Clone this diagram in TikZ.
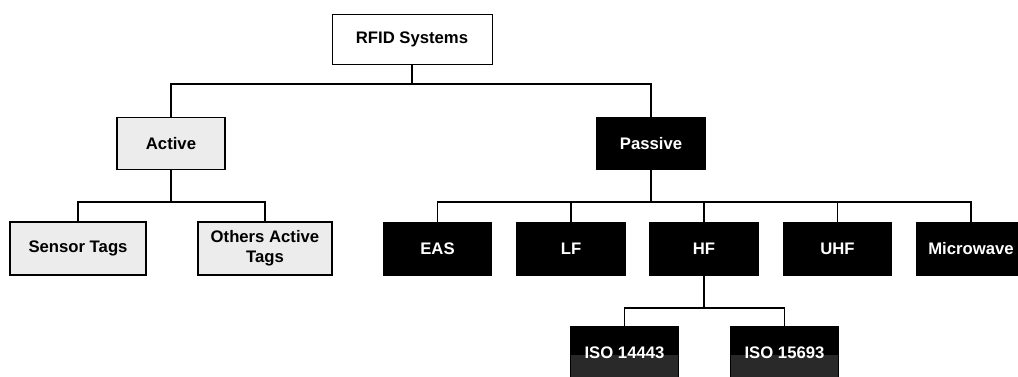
\documentclass[tikz,border=0pt]{standalone}
\usepackage{fontspec}
\setmainfont{Liberation Sans}
\begin{document}
\begin{tikzpicture}[x=1pt,y=-1pt,
  box/.style={draw=black, line width=1.3pt, minimum width=108pt, minimum height=52pt,
    inner sep=0pt, font=\fontsize{16.7}{20}\selectfont\bfseries, align=center},
  dark/.style={box, fill=black, text=white},
  light/.style={box, fill=gray!15},
  iso/.style={dark, path picture={\fill[black!84] ([yshift=-2pt]path picture bounding box.west) rectangle (path picture bounding box.south east);}},
  wire/.style={draw=black, line width=1.3pt}]
\useasboundingbox (0,0) rectangle (1018,376);
\node[box, minimum width=160pt, minimum height=50pt, line width=1pt] (rfid) at (412,39) {RFID Systems};
\node[light] (active) at (171,143.5) {Active};
\node[dark] (passive) at (651,143.5) {Passive};
\node[light, minimum width=136pt, minimum height=53pt] (sensor) at (78,248.5) {Sensor Tags};
\node[light, minimum width=134pt, minimum height=53pt] (others) at (265,248.5) {Others Active\\Tags};
\node[dark] (eas) at (437.5,249) {EAS};
\node[dark] (lf) at (571,249) {LF};
\node[dark] (hf) at (704,249) {HF};
\node[dark] (uhf) at (837.5,249) {UHF};
\node[dark] (micro) at (971,249) {Microwave};
\node[iso] (iso1) at (624.5,353) {ISO 14443};
\node[iso] (iso2) at (784.5,353) {ISO 15693};
\coordinate (j1) at (412,84);
\coordinate (j2) at (171,202);
\coordinate (j3) at (651,202);
\coordinate (j4) at (704,308);
\draw[wire] (rfid.south) -- (j1);
\draw[wire] (active.north) |- (j1) -| (passive.north);
\draw[wire] (active.south) -- (j2);
\draw[wire] (sensor.north) |- (j2) -| (others.north);
\draw[wire] (passive.south) -- (j3);
\draw[wire] (eas.north) |- (j3) -| (micro.north);
\draw[wire] (lf.north) -- (lf.north |- j3);
\draw[wire] (hf.north) -- (hf.north |- j3);
\draw[wire] (uhf.north) -- (uhf.north |- j3);
\draw[wire] (hf.south) -- (j4);
\draw[wire] (iso1.north) |- (j4) -| (iso2.north);
\end{tikzpicture}
\end{document}
